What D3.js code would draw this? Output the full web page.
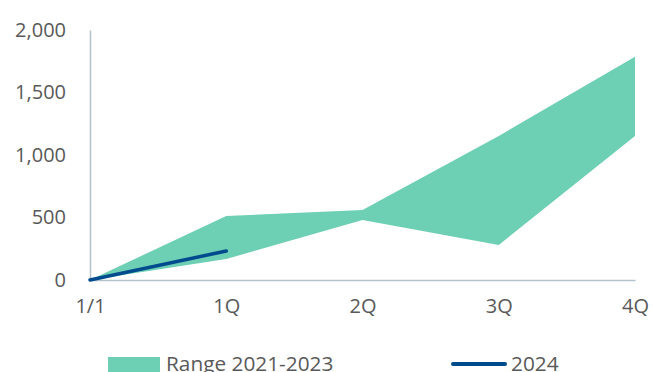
<!DOCTYPE html>
<html>
<head>
<meta charset="utf-8">
<script src="https://cdn.jsdelivr.net/npm/d3@7"></script>
<style>
  html, body { margin: 0; padding: 0; background: #fff; overflow: hidden; }
  svg text { font-family: "Open Sans", "Liberation Sans", Arial, sans-serif; fill: #595959; }
</style>
</head>
<body>
<div id="chart"></div>
<script>
// chart data
const periods = ["1/1", "1Q", "2Q", "3Q", "4Q"];
const rangeLow = [0, 168, 480, 280, 1152];
const rangeHigh = [0, 512, 560, 1152, 1786];
const ytd2024 = [0, 232];
const yTicks = [0, 500, 1000, 1500, 2000];

const width = 653, height = 372;
const margin = { top: 30, left: 90, right: 18, bottom: 92 };

const svg = d3.select("#chart")
  .append("svg")
  .attr("width", width)
  .attr("height", height);

const x = d3.scalePoint()
  .domain(periods)
  .range([margin.left, width - margin.right]);

const y = d3.scaleLinear()
  .domain([0, 2000])
  .range([height - margin.bottom, margin.top]);

// band between the low and high values of 2021-2023
const band = periods.map((p, i) => ({ p: p, lo: rangeLow[i], hi: rangeHigh[i] }));

svg.append("path")
  .datum(band)
  .attr("fill", "#6dcfb3")
  .attr("d", d3.area()
    .x(d => x(d.p))
    .y0(d => y(d.lo))
    .y1(d => y(d.hi)));

// axes
const axisColor = "#b4c2cc";

const yAxis = svg.append("g")
  .attr("transform", "translate(" + margin.left + ",0)")
  .call(d3.axisLeft(y).tickValues(yTicks).tickSize(0).tickPadding(24)
    .tickFormat(d3.format(",")));
yAxis.select(".domain").attr("stroke", axisColor).attr("stroke-width", 1.5);
yAxis.selectAll("text").style("font-size", "20px").attr("fill", "#595959");

const xAxis = svg.append("g")
  .attr("transform", "translate(0," + y(0) + ")")
  .call(d3.axisBottom(x).tickSize(0).tickPadding(19));
xAxis.select(".domain").attr("stroke", axisColor).attr("stroke-width", 1.5);
xAxis.selectAll("text").style("font-size", "20px").attr("fill", "#595959");

// 2024 line
svg.append("path")
  .datum(ytd2024)
  .attr("fill", "none")
  .attr("stroke", "#004b8d")
  .attr("stroke-width", 3.5)
  .attr("stroke-linecap", "round")
  .attr("d", d3.line()
    .x((d, i) => x(periods[i]))
    .y(d => y(d)));

// legend
const legend = svg.append("g");

legend.append("rect")
  .attr("x", 108)
  .attr("y", 357)
  .attr("width", 52)
  .attr("height", 20)
  .attr("fill", "#6dcfb3");

legend.append("text")
  .attr("x", 166)
  .attr("y", 371)
  .style("font-size", "20.8px")
  .text("Range 2021-2023");

legend.append("line")
  .attr("x1", 453)
  .attr("x2", 505)
  .attr("y1", 364)
  .attr("y2", 364)
  .attr("stroke", "#004b8d")
  .attr("stroke-width", 4)
  .attr("stroke-linecap", "round");

legend.append("text")
  .attr("x", 511)
  .attr("y", 371)
  .style("font-size", "20.8px")
  .text("2024");
</script>
</body>
</html>
